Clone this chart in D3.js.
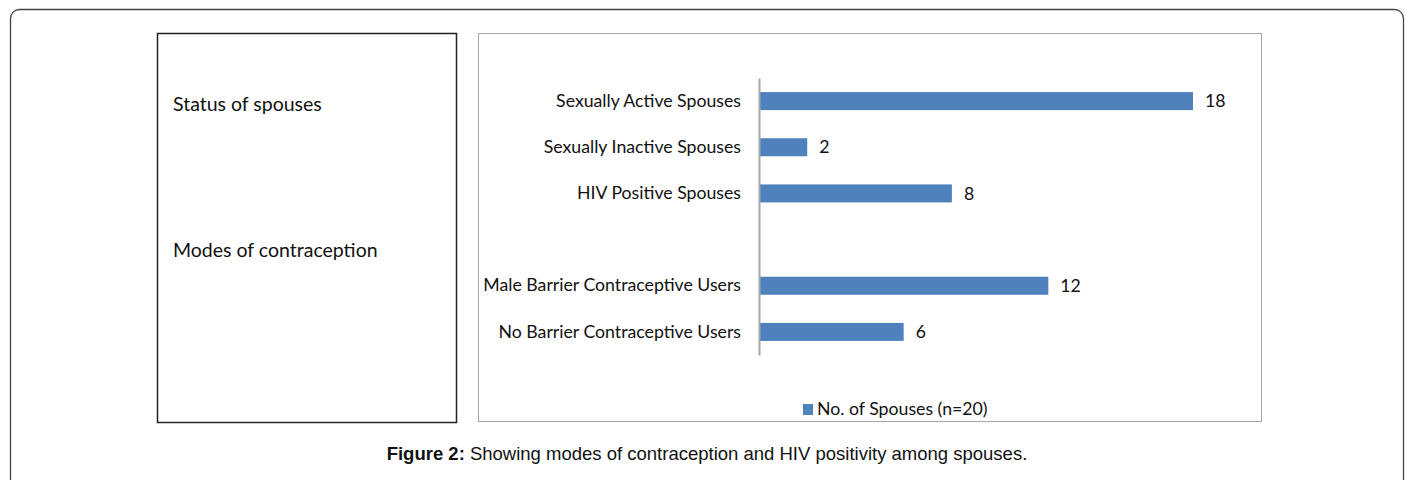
<!DOCTYPE html>
<html>
<head>
<meta charset="utf-8">
<script src="https://cdn.jsdelivr.net/npm/d3@7"></script>
<style>
  html, body { margin: 0; padding: 0; background: #fff; }
  svg { display: block; }
</style>
</head>
<body>
<svg id="chart" width="1409" height="480"></svg>
<script>
const categories = [
  "Sexually Active Spouses",
  "Sexually Inactive Spouses",
  "HIV Positive Spouses",
  "",
  "Male Barrier Contraceptive Users",
  "No Barrier Contraceptive Users"
];
const values = [18, 2, 8, null, 12, 6];
const groupLabels = ["Status of spouses", "Modes of contraception"];
const seriesName = "No. of Spouses (n=20)";
const captionBold = "Figure 2:";
const captionText = " Showing modes of contraception and HIV positivity among spouses.";

const svg = d3.select("#chart");
const labelFont = "Lato, 'Open Sans', sans-serif";
const barColor = "#4f81bd";
const fs = 17.7;

// outer rounded frame
svg.append("rect")
  .attr("x", 10.5).attr("y", 9.5)
  .attr("width", 1393).attr("height", 500)
  .attr("rx", 9).attr("ry", 9)
  .attr("fill", "none").attr("stroke", "#444").attr("stroke-width", 1.3);

// left box
svg.append("rect")
  .attr("x", 157.5).attr("y", 33.5)
  .attr("width", 299).attr("height", 389)
  .attr("fill", "#fff").attr("stroke", "#222").attr("stroke-width", 1.5);

const groupY = [111, 257];
svg.selectAll("text.group").data(groupLabels).join("text")
  .attr("class", "group")
  .attr("x", 173).attr("y", (d, i) => groupY[i])
  .attr("font-family", labelFont).attr("font-size", 19.5)
  .attr("fill", "#111")
  .text(d => d);

// chart box
svg.append("rect")
  .attr("x", 478.5).attr("y", 33.5)
  .attr("width", 783).attr("height", 388)
  .attr("fill", "#fff").attr("stroke", "#a6a6a6").attr("stroke-width", 1);

const x = d3.scaleLinear().domain([0, 18]).range([759, 1193]);
const y = d3.scaleBand().domain(categories.map((c, i) => i))
  .range([78, 355]).paddingInner(0.61).paddingOuter(0.305);

const data = categories.map((c, i) => ({ i, c, v: values[i] })).filter(d => d.v != null);

svg.selectAll("rect.bar").data(data).join("rect")
  .attr("class", "bar")
  .attr("x", x(0))
  .attr("y", d => y(d.i))
  .attr("width", d => x(d.v) - x(0))
  .attr("height", y.bandwidth())
  .attr("fill", barColor);

svg.selectAll("text.val").data(data).join("text")
  .attr("class", "val")
  .attr("x", d => x(d.v) + 12)
  .attr("y", d => y(d.i) + y.bandwidth() / 2)
  .attr("dy", "0.35em")
  .attr("font-family", labelFont).attr("font-size", fs)
  .attr("fill", "#111")
  .text(d => d.v);

const axis = d3.axisLeft(y).tickSize(0).tickSizeOuter(0).tickPadding(18)
  .tickFormat(i => categories[i]);
const gAxis = svg.append("g").attr("transform", `translate(${x(0)},0)`).call(axis);
gAxis.select(".domain").attr("stroke", "#a6a6a6").attr("stroke-width", 2);
gAxis.selectAll(".tick text")
  .attr("font-family", labelFont).attr("font-size", fs).attr("fill", "#111");

// legend
const lg = svg.append("g").attr("transform", "translate(803,404)");
lg.append("rect").attr("width", 10).attr("height", 11).attr("fill", barColor);
lg.append("text").attr("x", 14).attr("y", 11)
  .attr("font-family", labelFont).attr("font-size", fs).attr("fill", "#111")
  .text(seriesName);

// caption
const cap = svg.append("text")
  .attr("x", 707).attr("y", 460).attr("text-anchor", "middle")
  .attr("font-family", "'Liberation Sans', Arial, sans-serif").attr("font-size", 18.5)
  .attr("fill", "#111");
cap.append("tspan").attr("font-weight", "bold").text(captionBold);
cap.append("tspan").text(captionText);
</script>
</body>
</html>
